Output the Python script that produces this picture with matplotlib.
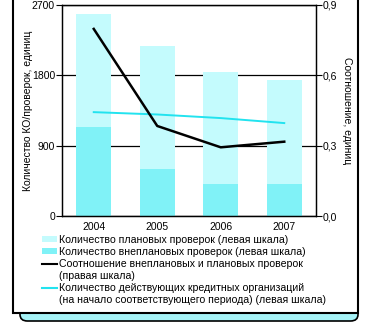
import numpy as np
import matplotlib.pyplot as plt
from matplotlib.patches import Rectangle, FancyBboxPatch, Patch
from matplotlib.lines import Line2D
from matplotlib.ticker import FuncFormatter

plt.rcParams['font.family'] = ['Liberation Sans', 'DejaVu Sans']
plt.rcParams['font.size'] = 7.5

# data ---------------------------------------------------------------
years = ['2004', '2005', '2006', '2007']
unplanned = [1139, 598, 409, 409]        # внеплановые проверки
planned = [1446, 1581, 1434, 1331]       # плановые проверки
credit_orgs = [1329, 1299, 1253, 1189]   # действующие КО на начало периода
ratio = [0.798, 0.384, 0.293, 0.317]     # внеплановые / плановые

left_ticks = [0, 900, 1800, 2700]
right_ticks = [0.0, 0.3, 0.6, 0.9]

c_light = '#c4fbfd'
c_dark = '#80f2f7'
c_cyan = '#22e3ef'

W, H = 372, 325
fig = plt.figure(figsize=(W / 100, H / 100), dpi=100)

# outer frame with the tab underneath
tab = FancyBboxPatch((20 / W, 1 - 321 / H), 338 / W, 16 / H,
                     boxstyle='round,pad=0,rounding_size=0.02',
                     transform=fig.transFigure, facecolor='#a6f3f7',
                     edgecolor='black', linewidth=1.2, zorder=0)
fig.patches.append(tab)
frame = Rectangle((13 / W, 1 - 313 / H), 345 / W, 320 / H,
                  transform=fig.transFigure, facecolor='white',
                  edgecolor='black', linewidth=1.5, zorder=1)
fig.patches.append(frame)

ax = fig.add_axes([62 / W, 1 - 216 / H, 254 / W, 211 / H])
ax.set_zorder(2)
x = np.arange(len(years))
ax.bar(x, unplanned, width=0.55, color=c_dark, zorder=2)
ax.bar(x, planned, width=0.55, bottom=unplanned, color=c_light, zorder=2)
ax.plot(x, credit_orgs, color=c_cyan, linewidth=1.4, zorder=3)

ax.set_xlim(-0.5, 3.5)
ax.set_ylim(0, 2700)
ax.set_yticks(left_ticks)
ax.set_xticks(x)
ax.set_xticklabels(years)
ax.tick_params(axis='x', length=0, pad=4)
ax.tick_params(axis='y', direction='out', length=4, width=0.8, pad=1)
ax.set_axisbelow(True)
ax.yaxis.grid(True, color='black', linewidth=0.9)
for s in ax.spines.values():
    s.set_linewidth(0.9)
ax.set_ylabel('Количество КО/проверок, единиц')
ax.yaxis.set_label_coords(-0.114, 0.5)

ax2 = ax.twinx()
ax2.plot(x, ratio, color='black', linewidth=1.8, zorder=4)
ax2.set_ylim(0, 0.9)
ax2.set_yticks(right_ticks)
ax2.yaxis.set_major_formatter(FuncFormatter(lambda v, p: f'{v:.1f}'.replace('.', ',')))
ax2.tick_params(axis='y', direction='out', length=4, width=0.8, pad=1)
for s in ax2.spines.values():
    s.set_linewidth(0.9)
ax2.set_ylabel('Соотношение, единиц', rotation=-90, va='bottom')
ax2.yaxis.set_label_coords(1.102, 0.5)

blank = Line2D([], [], linestyle='none')
handles = [Patch(facecolor=c_light), Patch(facecolor=c_dark),
           Line2D([], [], color='black', linewidth=1.5), blank,
           Line2D([], [], color=c_cyan, linewidth=1.5), blank]
labels = ['Количество плановых проверок (левая шкала)',
          'Количество внеплановых проверок (левая шкала)',
          'Соотношение внеплановых и плановых проверок',
          '(правая шкала)',
          'Количество действующих кредитных организаций',
          '(на начало соответствующего периода) (левая шкала)']
fig.legend(handles, labels, loc='upper left', bbox_to_anchor=(42 / W, 1 - 235 / H),
           frameon=False, handlelength=1.4, handleheight=0.55, handletextpad=0.25,
           labelspacing=0.19, borderpad=0, borderaxespad=0, fontsize=7.6)

fig.savefig('out.png', dpi=100, facecolor='white')
